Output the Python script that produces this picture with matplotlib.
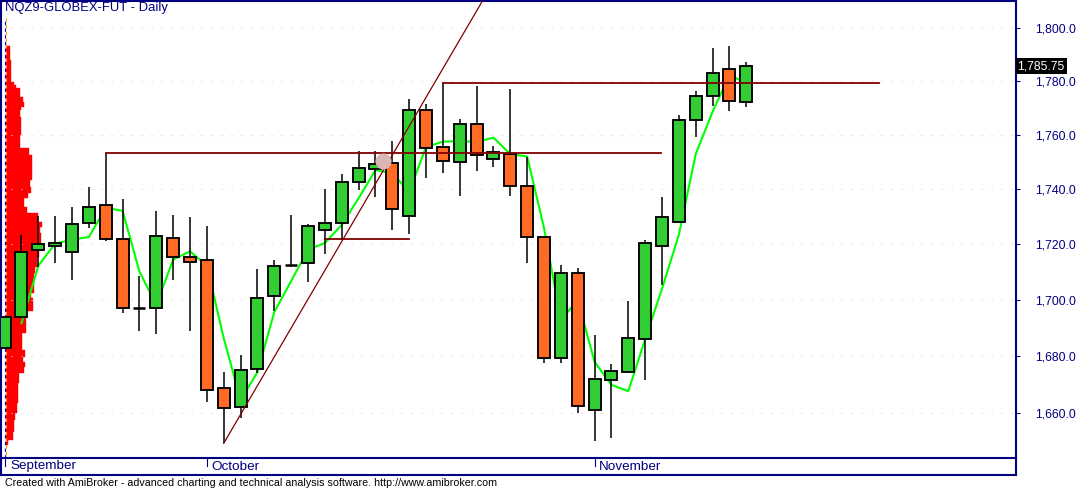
import matplotlib
matplotlib.use('Agg')
import matplotlib.pyplot as plt
import matplotlib.transforms as mtransforms
from matplotlib.lines import Line2D
from matplotlib.ticker import FixedLocator, FuncFormatter, NullLocator
import numpy as np

plt.rcParams['font.family'] = ['Liberation Sans', 'DejaVu Sans']

# daily OHLC, NQZ9 (bar index 0..44)
opens = [1682.8, 1693.8, 1718.0, 1719.6, 1717.2, 1727.7, 1734.2, 1722.0, 1697.0, 1697.0,
         1722.3, 1715.4, 1714.3, 1668.7, 1662.2, 1675.4, 1701.3, 1712.6, 1713.3, 1725.2,
         1727.7, 1742.6, 1747.4, 1749.6, 1730.3, 1769.2, 1755.5, 1750.0, 1764.0, 1751.1,
         1752.9, 1741.1, 1722.7, 1679.2, 1709.6, 1661.1, 1671.5, 1674.5, 1686.0, 1719.4,
         1728.1, 1765.5, 1774.5, 1784.6, 1772.2]
highs = [1694.0, 1723.5, 1730.4, 1730.4, 1733.5, 1740.8, 1753.5, 1736.4, 1708.7, 1732.2,
         1730.7, 1729.9, 1726.8, 1674.3, 1680.6, 1711.1, 1714.5, 1730.7, 1727.4, 1740.1,
         1745.7, 1754.1, 1754.1, 1757.8, 1773.3, 1771.6, 1779.3, 1765.9, 1778.3, 1756.0,
         1777.1, 1752.0, 1722.7, 1712.6, 1711.4, 1687.5, 1677.2, 1699.6, 1721.7, 1737.3,
         1767.4, 1776.4, 1792.5, 1793.3, 1787.3]
lows = [1682.5, 1693.5, 1712.0, 1713.3, 1707.0, 1725.9, 1721.1, 1695.4, 1689.0, 1687.9,
        1707.0, 1689.0, 1664.0, 1649.5, 1658.2, 1674.2, 1696.2, 1711.8, 1706.6, 1716.7,
        1721.7, 1739.8, 1737.4, 1725.1, 1723.8, 1744.1, 1746.2, 1737.6, 1746.9, 1748.4,
        1737.6, 1713.3, 1677.5, 1677.5, 1660.1, 1650.4, 1651.2, 1674.0, 1671.6, 1705.4,
        1728.0, 1759.4, 1771.0, 1768.9, 1770.5]
closes = [1693.8, 1717.2, 1720.1, 1720.6, 1727.4, 1733.5, 1722.0, 1697.0, 1697.0, 1723.0,
          1715.3, 1713.8, 1668.1, 1661.7, 1675.0, 1700.6, 1712.2, 1712.6, 1726.7, 1727.7,
          1742.6, 1747.8, 1749.2, 1732.8, 1769.2, 1755.1, 1750.4, 1764.0, 1752.6, 1753.7,
          1741.1, 1722.7, 1679.2, 1709.6, 1662.4, 1671.8, 1674.7, 1686.3, 1720.5, 1729.9,
          1765.5, 1774.5, 1783.1, 1772.6, 1785.75]

# moving average line (bars 1..44)
ma_start = 1
ma_values = [1691.7, 1712.3, 1720.3, 1721.7, 1722.7, 1733.3, 1732.2, 1710.2, 1698.2, 1714.5,
             1717.5, 1712.3, 1686.4, 1664.6, 1674.4, 1695.7, 1706.8, 1718.1, 1720.5, 1727.1,
             1736.8, 1747.1, 1746.0, 1739.1, 1755.6, 1757.6, 1757.8, 1757.5, 1759.1, 1753.0,
             1752.1, 1726.0, 1692.8, 1700.0, 1678.0, 1669.9, 1667.7, 1686.0, 1704.0, 1723.5,
             1753.0, 1768.7, 1782.4, 1779.4]

# volume-at-price profile: price edges (top to bottom) and volume per row
vap_edges = [1794.4, 1793.4, 1788.1, 1779.8, 1778.7, 1777.6, 1774.2, 1772.3, 1770.5, 1769.4,
             1766.8, 1760.0, 1755.2, 1752.7, 1743.5, 1740.9, 1738.7, 1736.9, 1733.6, 1731.5,
             1728.2, 1726.4, 1724.2, 1720.6, 1715.5, 1711.9, 1709.7, 1702.5, 1700.7, 1696.0,
             1691.8, 1688.2, 1682.2, 1679.7, 1677.9, 1676.2, 1674.1, 1670.5, 1663.5, 1660.0,
             1657.6, 1653.4, 1650.6, 1648.9]
vap_volume = [0.5, 4.5, 5.5, 7.8, 10.5, 14.5, 16.8, 17.8, 15.2, 13.8,
              15.5, 13.8, 22.8, 26.5, 23.8, 25.2, 21.8, 18.5, 21.2, 32.2,
              36.2, 34.5, 35.5, 32.8, 31.2, 28.8, 27.8, 25.5, 27.2, 20.5,
              20.5, 16.2, 19.5, 17.2, 19.5, 18.5, 13.5, 12.2, 11.2, 9.5,
              7.8, 7.2, 2.5]

# drawn studies
trend_x = [13, 29]
trend_y = [1649.5, 1817.6]
hlines_y = [1753.5, 1779.3, 1722.0]
hlines_x0 = [6, 26, 19]
hlines_x1 = [38.93, 51.9, 24]
marker_x, marker_y = 22.46, 1750.5

months = ['September', 'October', 'November']
month_idx = [0.04, 12, 35]
yticks = [1660, 1680, 1700, 1720, 1740, 1760, 1780, 1800]
last_price = 1785.75

navy = '#000080'
green = '#32cd32'
orange = '#ff6a24'
maroon = '#800000'

W, H = 1077, 488
fig = plt.figure(figsize=(W / 100, H / 100), dpi=100)
ax = fig.add_axes([1 / W, 30 / H, 1015 / W, 457 / H])
ax.set_yscale('log')
ax.set_xlim(-0.2135, 60.0)
ax.set_ylim(1644.4, 1810.4)

# volume profile
edges = np.array(vap_edges)
ax.barh(edges[1:], np.array(vap_volume) / 16.86, height=edges[:-1] - edges[1:],
        left=0.07, align='edge', color='#ff0000', ec='#ff0000', lw=0.3, zorder=1)
ax.axvline(0.03, ymax=0.963, color='#0000c0', lw=0.8, ls=(0, (3, 3)), zorder=1.5)
ax.axvline(0.075, ymax=0.963, color='#ff9030', lw=0.8, ls=(3, (3, 3)), zorder=1.5)

# moving average
ma_x = np.arange(ma_start, ma_start + len(ma_values))
ax.plot(ma_x, ma_values, color='#00ff00', lw=1.5, zorder=2)

# candles
o, h, l, c = map(np.array, (opens, highs, lows, closes))
x = np.arange(len(o))
doji = np.isclose(o, c)
ax.vlines(x, l, h, color='black', lw=1.1, zorder=3)
cols = np.where(c > o, green, orange)
ax.bar(x[~doji], np.abs(c - o)[~doji], bottom=np.minimum(o, c)[~doji], width=0.71,
       color=cols[~doji], edgecolor='black', lw=1.35, zorder=4)
ax.hlines(c[doji], x[doji] - 0.355, x[doji] + 0.355, color='black', lw=1.8, zorder=4)

# studies
ax.plot(trend_x, trend_y, color=maroon, lw=0.9, zorder=5)
for yv, x0, x1 in zip(hlines_y, hlines_x0, hlines_x1):
    ax.plot([x0, x1], [yv, yv], color=maroon, lw=1.3, zorder=5)
ax.plot(marker_x, marker_y, 'o', ms=11.5, color='#dcb6b6', mec='none', zorder=6)

# y axis on the right
ax.yaxis.tick_right()
ax.yaxis.set_major_locator(FixedLocator(yticks))
ax.yaxis.set_minor_locator(NullLocator())
ax.yaxis.set_major_formatter(FuncFormatter(lambda v, p: f"{v:,.1f}"))
ax.tick_params(axis='y', which='major', length=3, width=0.8, color=navy,
               labelcolor=navy, pad=10.5, labelsize=8.8)
ax.set_xticks([])
ax.grid(axis='y', color='#f7c0cc', lw=0.8, ls=(0, (1, 8)))
for s in ax.spines.values():
    s.set_color(navy)
    s.set_linewidth(1.5)

ax.text(1.0015, last_price, f"{last_price:,.2f}",
        transform=mtransforms.blended_transform_factory(ax.transAxes, ax.transData),
        color='white', fontsize=8.8, va='center', ha='left',
        bbox=dict(boxstyle='square,pad=0.15', fc='black', ec='none'), zorder=10)

# date strip under the chart
fig.add_artist(Line2D([0, 1016 / W], [13 / H, 13 / H], color=navy, lw=1.5))
fig.add_artist(Line2D([1 / W, 1 / W], [13 / H, 30 / H], color=navy, lw=1.5))
fig.add_artist(Line2D([1016 / W, 1016 / W], [13 / H, 30 / H], color=navy, lw=1.5))
trans = mtransforms.blended_transform_factory(ax.transData, fig.transFigure)
for name, xi in zip(months, month_idx):
    ax.add_line(Line2D([xi, xi], [(H - 466) / H, (H - 459) / H], color=navy, lw=0.8,
                       transform=trans, clip_on=False))
    ax.text(xi, (H - 466.5) / H, name, color=navy, fontsize=9.7, va='center', ha='left',
            transform=mtransforms.offset_copy(trans, fig=fig, x=4.7, y=0, units='dots'),
            clip_on=False)

fig.text(5 / W, (H - 2.5) / H, 'NQZ9-GLOBEX-FUT - Daily', color=navy, fontsize=9.4,
         va='top', ha='left')
fig.text(5 / W, 1.5 / H, 'Created with AmiBroker - advanced charting and technical analysis '
         'software. http://www.amibroker.com', color='black', fontsize=7.7,
         va='baseline', ha='left')

fig.savefig('out.png', dpi=100)
